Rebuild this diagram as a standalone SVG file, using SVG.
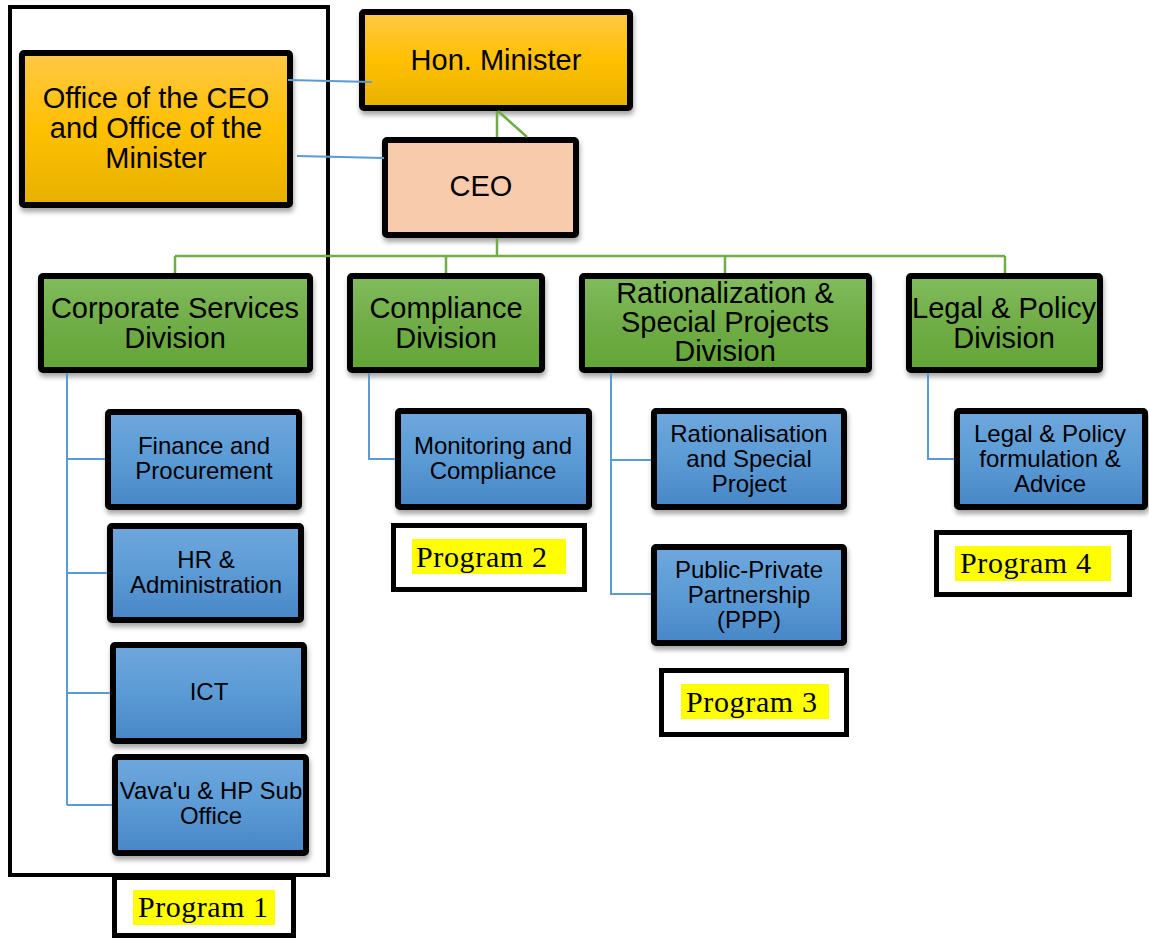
<svg xmlns="http://www.w3.org/2000/svg" width="1149" height="939" viewBox="0 0 1149 939">
<defs>
<linearGradient id="gOr" x1="0" y1="0" x2="0" y2="1"><stop offset="0" stop-color="#ffc848"/><stop offset="0.5" stop-color="#ffc000"/><stop offset="1" stop-color="#e6b100"/></linearGradient>
<linearGradient id="gGr" x1="0" y1="0" x2="0" y2="1"><stop offset="0" stop-color="#82bc5e"/><stop offset="0.5" stop-color="#70ad47"/><stop offset="1" stop-color="#62a536"/></linearGradient>
<linearGradient id="gBl" x1="0" y1="0" x2="0" y2="1"><stop offset="0" stop-color="#6fa7dd"/><stop offset="0.5" stop-color="#5b9bd5"/><stop offset="1" stop-color="#4886c6"/></linearGradient>
<filter id="sh" x="-10%" y="-10%" width="130%" height="140%"><feDropShadow dx="1" dy="4" stdDeviation="2.5" flood-color="#000" flood-opacity="0.35"/></filter>
</defs>
<style>
.box{stroke:#000;stroke-width:6;filter:url(#sh)}
.or{fill:url(#gOr)}
.gr{fill:url(#gGr)}
.bl{fill:url(#gBl)}
.ceo{fill:#f8cbad}
.prog{fill:#fff;stroke:#000;stroke-width:5}
.frame{fill:none;stroke:#000;stroke-width:4}
.hl{fill:#ffff00}
.t{font-family:"Liberation Sans",Arial,sans-serif;font-size:29px;fill:#000;text-anchor:middle}
.s{font-family:"Liberation Sans",Arial,sans-serif;font-size:24px;fill:#000;text-anchor:middle}
.p{font-family:"Liberation Serif","Times New Roman",serif;font-size:30px;fill:#000}
.cg{fill:none;stroke:#70ad47;stroke-width:2.5}
.cb{fill:none;stroke:#5b9bd5;stroke-width:2}
</style>
<rect class="frame" x="10" y="7" width="318" height="868"/>

<g id="office"><rect class="box or" x="22" y="53" width="268" height="152" rx="2"/><text class="t"><tspan x="156" y="108">Office of the CEO</tspan><tspan x="156" y="138">and Office of the</tspan><tspan x="156" y="168">Minister</tspan></text></g>
<g id="minister"><rect class="box or" x="362" y="12" width="268" height="96" rx="2"/><text class="t" x="496" y="70">Hon. Minister</text></g>
<g id="ceo"><rect class="box ceo" x="385" y="140" width="191" height="95" rx="2"/><text class="t" x="481" y="196">CEO</text></g>

<g id="corporate"><rect class="box gr" x="41" y="276" width="269" height="94" rx="2"/><text class="t"><tspan x="175" y="318">Corporate Services</tspan><tspan x="175" y="348">Division</tspan></text></g>
<g id="compliance"><rect class="box gr" x="350" y="276" width="192" height="94" rx="2"/><text class="t"><tspan x="446" y="318">Compliance</tspan><tspan x="446" y="348">Division</tspan></text></g>
<g id="rationalization"><rect class="box gr" x="582" y="276" width="287" height="94" rx="2"/><text class="t"><tspan x="725" y="303">Rationalization &amp;</tspan><tspan x="725" y="332">Special Projects</tspan><tspan x="725" y="361">Division</tspan></text></g>
<g id="legal"><rect class="box gr" x="909" y="276" width="191" height="94" rx="2"/><text class="t"><tspan x="1004" y="318">Legal &amp; Policy</tspan><tspan x="1004" y="348">Division</tspan></text></g>

<g id="finance"><rect class="box bl" x="108" y="412" width="191" height="95" rx="2"/><text class="s"><tspan x="204" y="454">Finance and</tspan><tspan x="204" y="479">Procurement</tspan></text></g>
<g id="hr"><rect class="box bl" x="110" y="526" width="191" height="94" rx="2"/><text class="s"><tspan x="206" y="568">HR &amp;</tspan><tspan x="206" y="593">Administration</tspan></text></g>
<g id="ict"><rect class="box bl" x="113" y="645" width="191" height="96" rx="2"/><text class="s" x="209" y="700">ICT</text></g>
<g id="vavau"><rect class="box bl" x="115" y="757" width="191" height="96" rx="2"/><text class="s"><tspan x="211" y="799">Vava'u &amp; HP Sub</tspan><tspan x="211" y="824">Office</tspan></text></g>

<g id="monitoring"><rect class="box bl" x="398" y="411" width="191" height="96" rx="2"/><text class="s"><tspan x="493" y="454" textLength="158" lengthAdjust="spacing">Monitoring and</tspan><tspan x="493" y="479">Compliance</tspan></text></g>
<g id="rat-sub"><rect class="box bl" x="654" y="411" width="190" height="96" rx="2"/><text class="s"><tspan x="749" y="442">Rationalisation</tspan><tspan x="749" y="467">and Special</tspan><tspan x="749" y="492">Project</tspan></text></g>
<g id="ppp"><rect class="box bl" x="654" y="547" width="190" height="96" rx="2"/><text class="s"><tspan x="749" y="578">Public-Private</tspan><tspan x="749" y="603">Partnership</tspan><tspan x="749" y="628">(PPP)</tspan></text></g>
<g id="legal-sub"><rect class="box bl" x="957" y="411" width="188" height="96" rx="2"/><text class="s"><tspan x="1050" y="442">Legal &amp; Policy</tspan><tspan x="1050" y="467">formulation &amp;</tspan><tspan x="1050" y="492">Advice</tspan></text></g>

<g id="program1"><rect class="prog" x="114.5" y="877.5" width="179" height="58"/><rect class="hl" x="133" y="890" width="142" height="35"/><text class="p" x="138" y="917" textLength="130" lengthAdjust="spacing">Program 1</text></g>
<g id="program2"><rect class="prog" x="393.5" y="525.5" width="191" height="64"/><rect class="hl" x="412" y="539" width="154" height="35"/><text class="p" x="416" y="567" textLength="131" lengthAdjust="spacing">Program 2</text></g>
<g id="program3"><rect class="prog" x="661.5" y="670.5" width="185" height="64"/><rect class="hl" x="681" y="684" width="148" height="35"/><text class="p" x="686" y="712" textLength="131" lengthAdjust="spacing">Program 3</text></g>
<g id="program4"><rect class="prog" x="936.5" y="532.5" width="193" height="62"/><rect class="hl" x="955" y="546" width="156" height="35"/><text class="p" x="960" y="573" textLength="131" lengthAdjust="spacing">Program 4</text></g>

<g id="connectors">
<path class="cg" d="M497 111V137M498 111L527 137M497 238V256M175 256H1005M175 256V273M446 256V273M725 256V273M1005 256V273"/>
<path class="cb" d="M288 80L372 82M297 156L384 158"/>
<path class="cb" d="M67 373V805M67 459H105M67 573H107M67 693H110M67 805H112"/>
<path class="cb" d="M369 373V459H395"/>
<path class="cb" d="M611 373V594H651M611 460H651"/>
<path class="cb" d="M928 373V459H954"/>
</g>
</svg>
